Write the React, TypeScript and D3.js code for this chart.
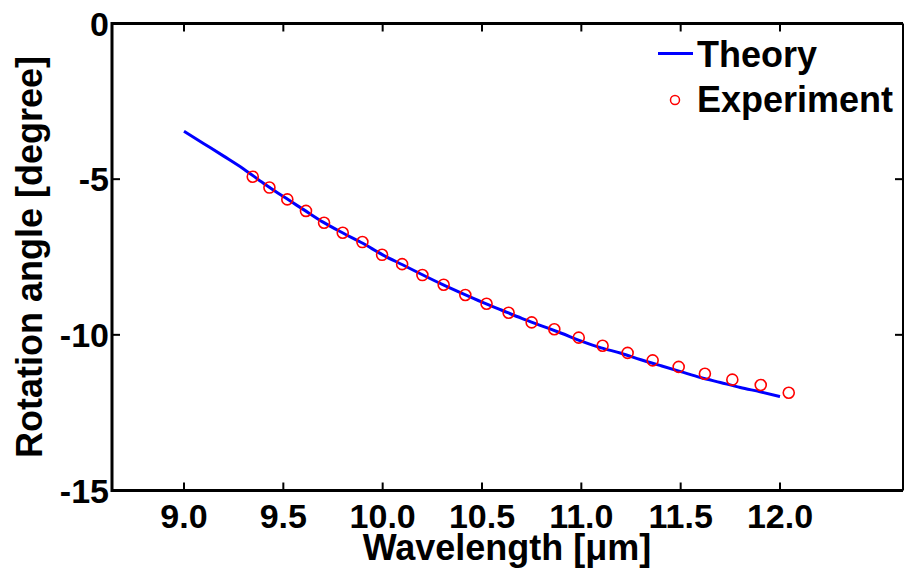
import React from "react";
import * as d3 from "d3";

const theoryWavelength = [9.0, 9.1, 9.2, 9.3, 9.4, 9.5, 9.6, 9.7, 9.8, 9.9, 10.0, 10.1, 10.2, 10.3, 10.4, 10.5, 10.6, 10.7, 10.8, 10.9, 11.0, 11.1, 11.2, 11.3, 11.4, 11.5, 11.6, 11.7, 11.8, 11.9, 12.0];
const theoryAngle = [-3.46, -3.86, -4.26, -4.67, -5.13, -5.56, -5.97, -6.38, -6.73, -7.06, -7.43, -7.75, -8.07, -8.38, -8.67, -8.95, -9.21, -9.47, -9.71, -9.95, -10.2, -10.42, -10.59, -10.8, -10.99, -11.18, -11.37, -11.53, -11.69, -11.83, -11.98];

const expWavelength = [9.346, 9.43, 9.52, 9.614, 9.705, 9.799, 9.898, 9.997, 10.098, 10.2, 10.307, 10.416, 10.523, 10.634, 10.75, 10.864, 10.987, 11.107, 11.233, 11.359, 11.49, 11.622, 11.76, 11.903, 12.044];
const expAngle = [-4.92, -5.27, -5.65, -6.02, -6.4, -6.72, -7.02, -7.43, -7.73, -8.08, -8.39, -8.72, -9.0, -9.29, -9.6, -9.82, -10.09, -10.35, -10.58, -10.82, -11.03, -11.25, -11.44, -11.61, -11.86];

const xTicks = [9.0, 9.5, 10.0, 10.5, 11.0, 11.5, 12.0];
const xTickLabels = ["9.0", "9.5", "10.0", "10.5", "11.0", "11.5", "12.0"];
const yTicks = [0, -5, -10, -15];
const yTickLabels = ["0", "-5", "-10", "-15"];

const W = 905;
const H = 571;
const left = 112;
const right = 903;
const top = 23.5;
const bottom = 490.5;

export default function App() {
  const x = d3.scaleLinear().domain([9.0, 12.0]).range([184, 780]);
  const y = d3.scaleLinear().domain([0, -15]).range([top, bottom]);
  const line = d3
    .line<number>()
    .x((_, i) => x(theoryWavelength[i]))
    .y((d) => y(d))
    .curve(d3.curveMonotoneX);
  const font = "'Liberation Sans', Arial, Helvetica, sans-serif";
  return (
    <svg
      width={W}
      height={H}
      style={{ position: "absolute", left: 0, top: 0, background: "#fff" }}
      fontFamily={font}
      fontWeight="bold"
    >
      <rect x={0} y={0} width={W} height={H} fill="#fff" />
      {xTicks.map((t, i) => (
        <g key={"xt" + i}>
          <line x1={x(t)} x2={x(t)} y1={bottom} y2={bottom - 8} stroke="#000" strokeWidth={2} />
          <line x1={x(t)} x2={x(t)} y1={top} y2={top + 8} stroke="#000" strokeWidth={2} />
          <text x={x(t)} y={528} textAnchor="middle" fontSize={34} fill="#000">
            {xTickLabels[i]}
          </text>
        </g>
      ))}
      {yTicks.map((t, i) => (
        <g key={"yt" + i}>
          <line x1={left} x2={left + 8} y1={y(t)} y2={y(t)} stroke="#000" strokeWidth={2} />
          <line x1={right} x2={right - 8} y1={y(t)} y2={y(t)} stroke="#000" strokeWidth={2} />
          <text x={109} y={y(t)} dy="0.36em" textAnchor="end" fontSize={34} fill="#000">
            {yTickLabels[i]}
          </text>
        </g>
      ))}
      <line x1={left} x2={right} y1={top} y2={top} stroke="#000" strokeWidth={3} />
      <line x1={left} x2={right} y1={bottom} y2={bottom} stroke="#000" strokeWidth={3} />
      <line x1={left} x2={left} y1={top - 1.5} y2={bottom + 1.5} stroke="#000" strokeWidth={3} />
      <line x1={right} x2={right} y1={top} y2={bottom} stroke="#000" strokeWidth={2} />
      <path d={line(theoryAngle) || ""} fill="none" stroke="#0000ff" strokeWidth={3} />
      {expAngle.map((v, i) => (
        <circle key={"e" + i} cx={x(expWavelength[i])} cy={y(v)} r={5.5} fill="none" stroke="#ff0000" strokeWidth={1.6} />
      ))}
      <line x1={658} x2={693} y1={53.5} y2={53.5} stroke="#0000ff" strokeWidth={3} />
      <text x={697} y={66.5} fontSize={36} fill="#000">Theory</text>
      <circle cx={675} cy={100} r={4.5} fill="none" stroke="#ff0000" strokeWidth={1.5} />
      <text x={697} y={111.5} fontSize={36} fill="#000">Experiment</text>
      <text x={507} y={560} textAnchor="middle" fontSize={36} fill="#000">
        Wavelength [μm]
      </text>
      <text transform="translate(42,257) rotate(-90)" textAnchor="middle" fontSize={36} fill="#000">
        Rotation angle [degree]
      </text>
    </svg>
  );
}
